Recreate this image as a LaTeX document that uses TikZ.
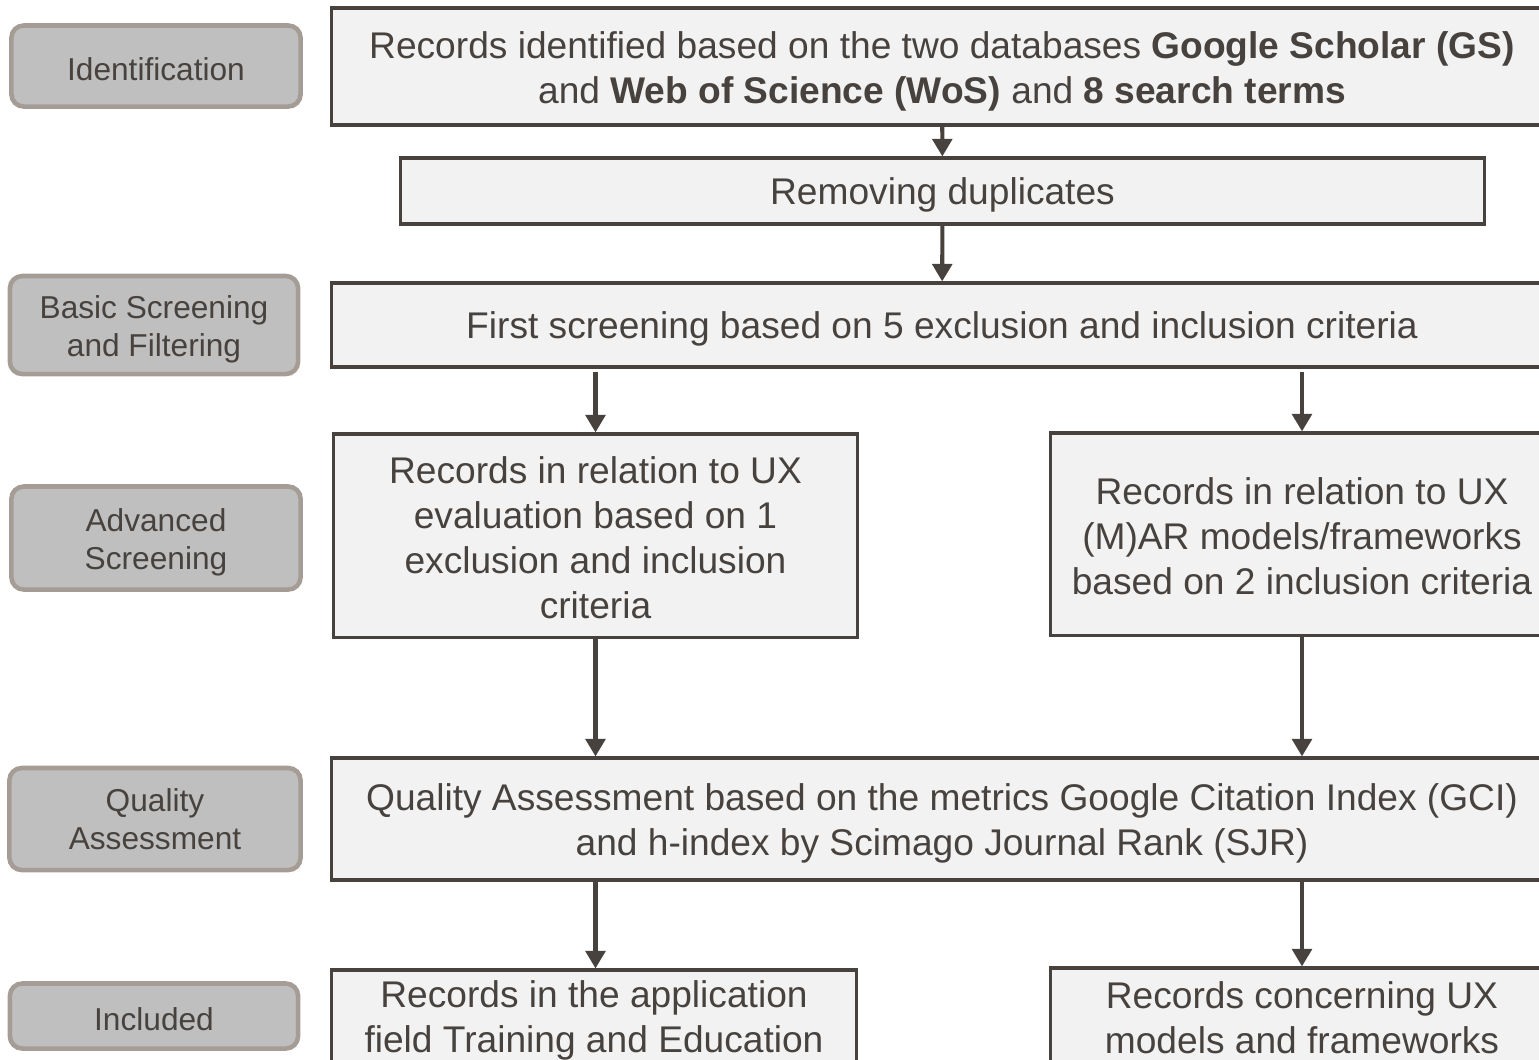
\documentclass[tikz,border=0pt]{standalone}
\usepackage{fontspec}
\setmainfont{Liberation Sans}
\usepackage{tikz}
\usetikzlibrary{positioning}
\usetikzlibrary{arrows.meta}
\definecolor{ink}{HTML}{47423E}
\definecolor{boxfill}{HTML}{F2F2F2}
\definecolor{stagefill}{HTML}{BFBFBF}
\definecolor{stageline}{HTML}{A59D95}
% taller first line, pushes a multi-line text down a little
\newcommand\lift[1][10.4pt]{\rule{0pt}{#1}}
\tikzset{%
  flow/.style = {-{Triangle[width=5.6pt,length=5pt]},draw=ink,
        line width=1.15pt},
  stage/.style = {rectangle,rounded corners=3.5pt,draw=stageline,
        fill=stagefill,line width=1.3pt,text=ink,align=center,
        font=\fontsize{9}{10.8}\selectfont,inner sep=0pt,
        execute at begin node={\rule{0pt}{8.2pt}}},
  stepbox/.style = {rectangle,draw=ink,fill=boxfill,line width=0.9pt,
        text=ink,align=center,inner sep=0pt,
        font=\fontsize{10.56}{12.8}\selectfont,
        execute at begin node={\rule{0pt}{10pt}}}
}

\begin{document}
\begin{tikzpicture}[x=0.01cm,y=-0.01cm]
    \useasboundingbox (0,0) rectangle (1539,1059);
    \clip (0,0) rectangle (1539,1059);

    % stages on the left
    \node[stage,minimum width=2.89cm,minimum height=0.81cm] (s-ident) at (156,66) {Identification};
    \node[stage,minimum width=2.88cm,minimum height=0.98cm] (s-basic) at (154,325) {\lift[8.9pt]Basic Screening\\and Filtering};
    \node[stage,minimum width=2.89cm,minimum height=1.03cm] (s-adv) at (156,538) {\lift[8.9pt]Advanced\\Screening};
    \node[stage,minimum width=2.91cm,minimum height=1.02cm] (s-qual) at (155,819) {Quality\\Assessment};
    \node[stage,minimum width=2.88cm,minimum height=0.65cm] (s-incl) at (154,1016) {Included};

    % steps
    \node[stepbox,minimum width=12.2cm,minimum height=1.17cm] (ident) at (942,66.5)
        {\lift Records identified based on the two databases \textbf{Google Scholar (GS)}\\
         and \textbf{Web of Science (WoS)} and \textbf{8 search terms}};
    \node[stepbox,minimum width=10.83cm,minimum height=0.66cm] (dup) at (942.5,191) {Removing duplicates};
    \node[stepbox,minimum width=12.2cm,minimum height=0.84cm] (first) at (942,325)
        {First screening based on 5 exclusion and inclusion criteria};
    \node[stepbox,minimum width=5.23cm,minimum height=2.03cm] (adv-l) at (595.5,535.5)
        {\lift[8.8pt]Records in relation to UX\\evaluation based on 1\\exclusion and inclusion\\criteria};
    \node[stepbox,minimum width=5.02cm,minimum height=2.02cm] (adv-r) at (1302,534)
        {\lift[8.8pt]Records in relation to UX\\(M)AR models/frameworks\\based on 2 inclusion criteria};
    \node[stepbox,minimum width=12.2cm,minimum height=1.22cm] (qual) at (942,819)
        {\lift Quality Assessment based on the metrics Google Citation Index (GCI)\\
         and h-index by Scimago Journal Rank (SJR)};
    \node[stepbox,minimum width=5.24cm,minimum height=0.96cm] (incl-l) at (594,1018)
        {\lift[9.2pt]Records in the application\\field Training and Education};
    \node[stepbox,minimum width=5.02cm,minimum height=0.99cm,
        execute at begin node={}] (incl-r) at (1302,1017.5)
        {Records concerning UX\\models and frameworks};

    \draw[flow] (ident) -- (dup);
    \draw[flow] (dup) -- (first);
    \draw[flow] ([yshift=-1pt]first.south -| adv-l.north) -- (adv-l.north);
    \draw[flow] ([yshift=-1pt]first.south -| adv-r.north) -- (adv-r.north);
    \draw[flow] (adv-l.south) -- (adv-l.south |- qual.north);
    \draw[flow] (adv-r.south) -- (adv-r.south |- qual.north);
    \draw[flow] (qual.south -| adv-l.south) -- (incl-l.north -| adv-l.south);
    \draw[flow] (qual.south -| adv-r.south) -- (incl-r.north);
\end{tikzpicture}
\end{document}
